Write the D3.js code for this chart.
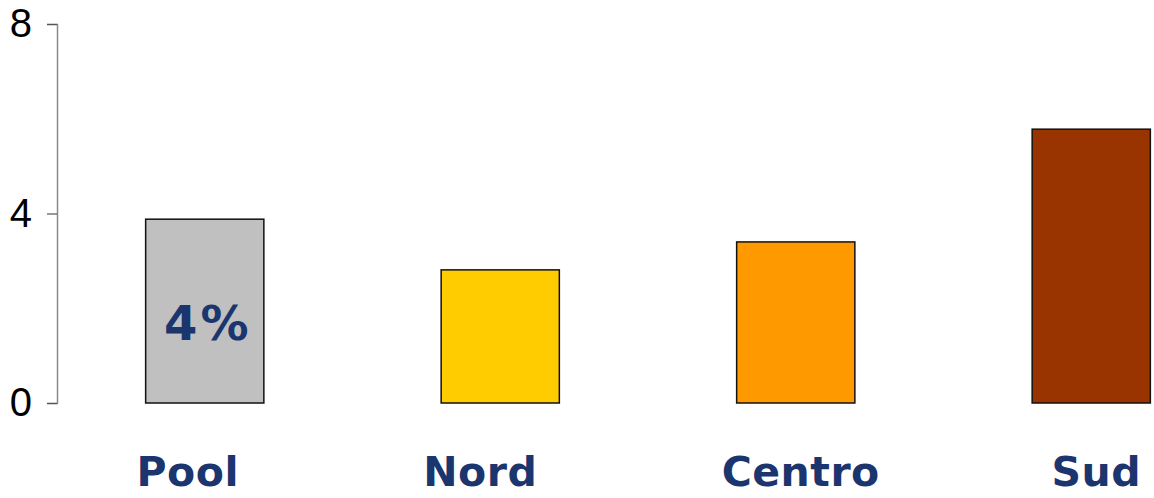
<!DOCTYPE html>
<html><head><meta charset="utf-8">
<script src="https://cdn.jsdelivr.net/npm/d3@7"></script>
<style>body{margin:0;background:#fff}svg{display:block}</style>
</head><body>
<svg id="c" width="1154" height="498"></svg>
<script>
const categories = ["Pool", "Nord", "Centro", "Sud"];
const values = [3.88, 2.81, 3.40, 5.78];
const colors = ["#C0C0C0", "#FFCC00", "#FF9900", "#993300"];
const yTicks = [0, 4, 8];
const barLabel = "4%";

const labelShift = [-17, -20, 5, 5];

const svg = d3.select("#c");
const x = d3.scaleBand().domain(categories).range([57, 1239]).paddingInner(0.6).paddingOuter(0.3);
const y = d3.scaleLinear().domain([0, 8]).range([403, 24]);

const ax = svg.append("g").attr("transform", "translate(57,0)")
  .call(d3.axisLeft(y).tickValues(yTicks).tickSize(10).tickPadding(15).tickFormat(d3.format("d")));
ax.attr("font-family", null);
ax.select(".domain").attr("stroke", "#8a8a8a").attr("stroke-width", 1.5);
ax.selectAll(".tick line").attr("stroke", "#555").attr("stroke-width", 1.2);
ax.selectAll(".tick text")
  .style("font-family", "'Liberation Sans Narrow', 'Arial Narrow', sans-serif")
  .style("font-size", "40px").attr("fill", "#000");

svg.selectAll("rect.bar").data(categories).enter().append("rect")
  .attr("class", "bar")
  .attr("x", d => x(d))
  .attr("width", x.bandwidth())
  .attr("y", (d, i) => y(values[i]))
  .attr("height", (d, i) => y(0) - y(values[i]))
  .attr("fill", (d, i) => colors[i])
  .attr("stroke", "#111").attr("stroke-width", 1.5);

svg.selectAll("text.cat").data(categories).enter().append("text")
  .attr("class", "cat")
  .attr("x", (d, i) => x(d) + x.bandwidth() / 2 + labelShift[i])
  .attr("y", 486)
  .attr("text-anchor", "middle")
  .style("font-family", "'DejaVu Sans', Verdana, sans-serif")
  .attr("font-weight", "bold")
  .attr("font-size", 41)
  .attr("letter-spacing", 0.5)
  .attr("fill", "#1B356E")
  .text(d => d);

svg.append("text")
  .attr("x", x(categories[0]) + x.bandwidth() / 2 + 3)
  .attr("y", 340)
  .attr("text-anchor", "middle")
  .style("font-family", "'DejaVu Sans', Verdana, sans-serif")
  .attr("font-weight", "bold")
  .attr("font-size", 48)
  .attr("letter-spacing", 3)
  .attr("fill", "#1B356E")
  .text(barLabel);
</script>
</body></html>
